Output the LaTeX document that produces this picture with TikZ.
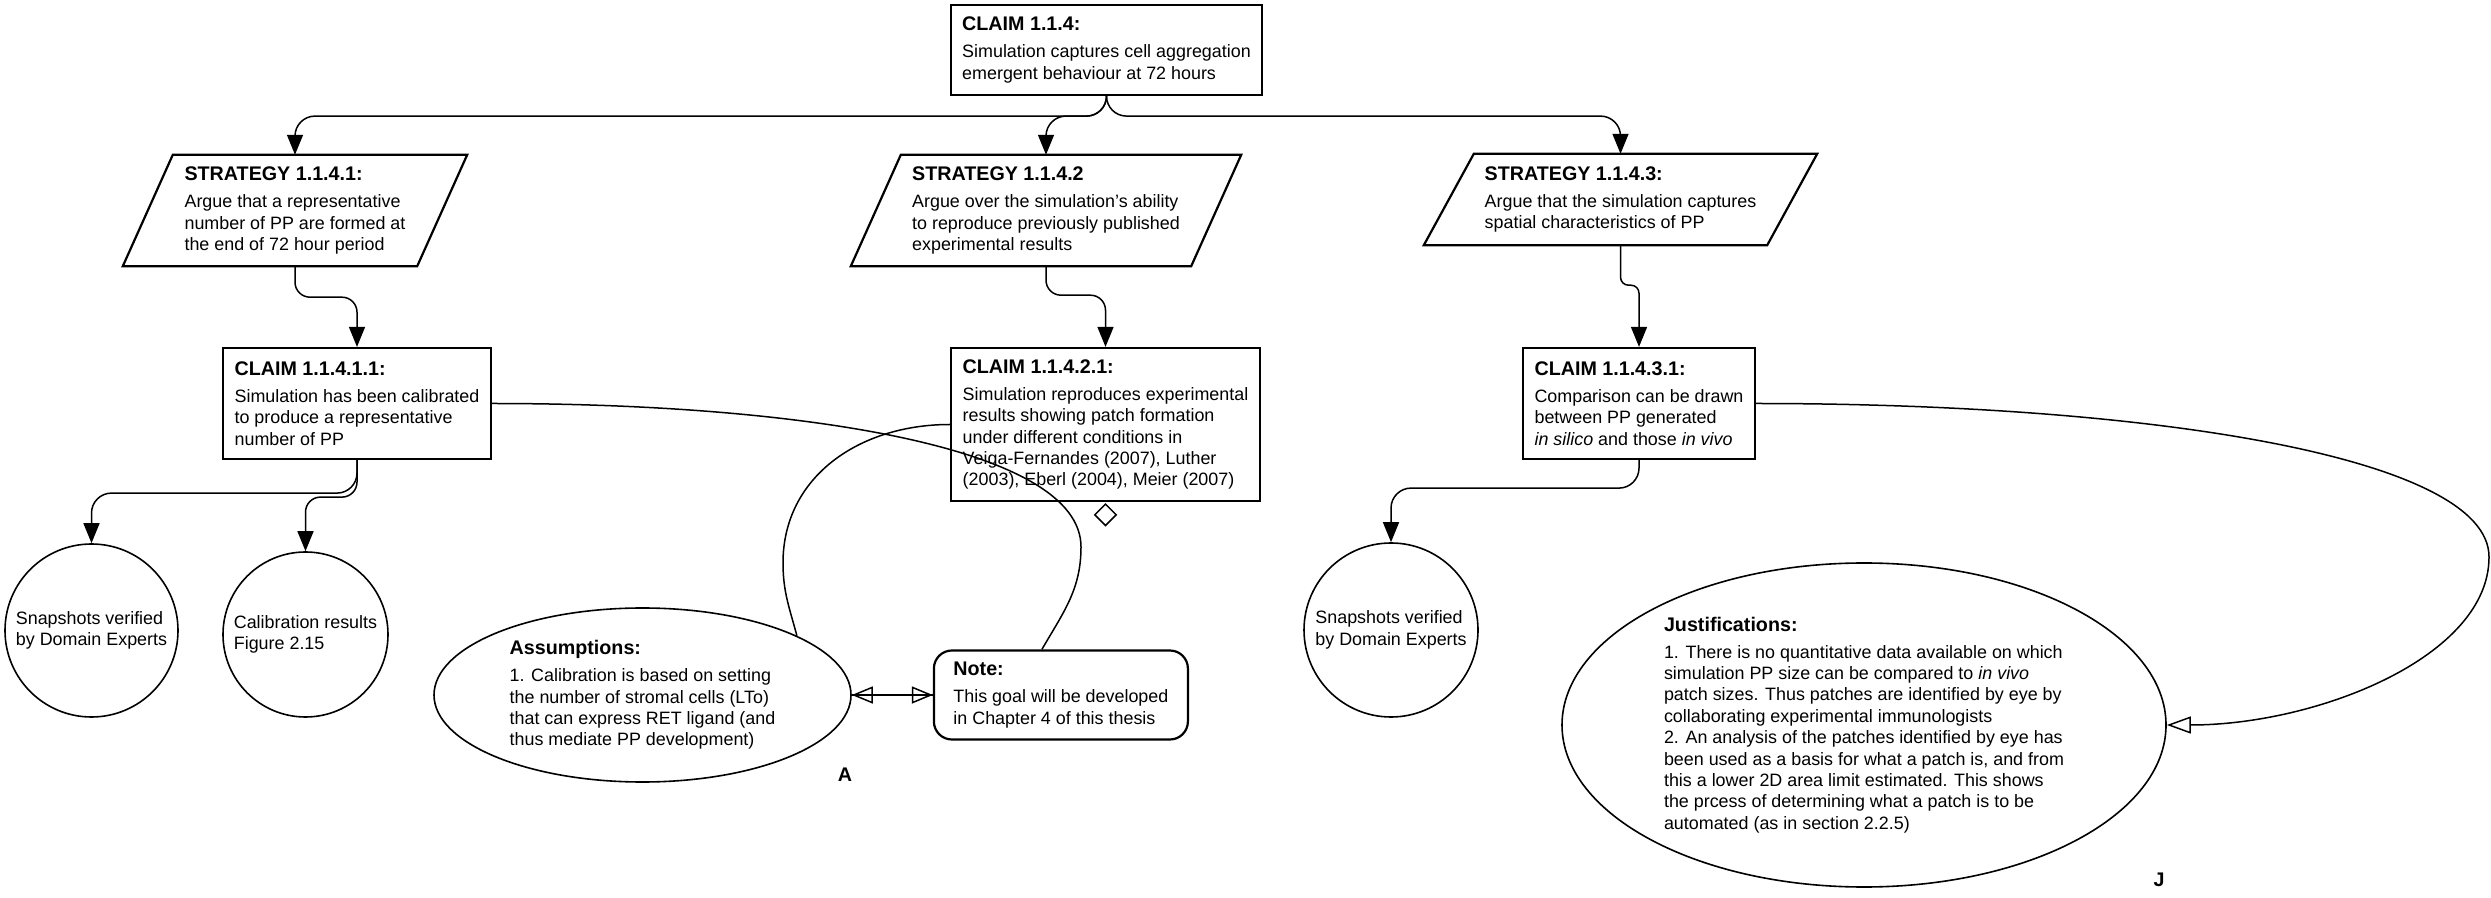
\documentclass[tikz,border=0pt]{standalone}
\usepackage{fontspec}
\setmainfont{Liberation Sans}
\usetikzlibrary{positioning,arrows.meta,shapes.geometric}
\newcommand{\gsnbody}{\fontsize{17.9}{21.4}\selectfont}
\newcommand{\gsnhead}[1]{{\fontsize{19.7}{21.4}\selectfont\bfseries #1}\\[5.6pt]}
\tikzset{
  claim/.style={draw, line width=2.2pt, rectangle, align=left, inner sep=0pt, font=\gsnbody},
  strategy/.style={rectangle, align=left, inner sep=0pt, font=\gsnbody},
  evidence/.style={circle, draw, line width=1.6pt, align=left, inner sep=0pt, font=\gsnbody},
  context/.style={ellipse, draw, line width=1.6pt, align=left, inner sep=0pt, font=\gsnbody},
  notebox/.style={draw, line width=2.2pt, rounded corners=18pt, align=left, inner sep=0pt, font=\gsnbody},
  solved/.style={line width=1.5pt, rounded corners=20pt, -{Triangle[length=20pt,width=16pt]}},
  incontext/.style={line width=1.5pt, -{Triangle[open,length=21pt,width=17pt]}},
  plain/.style={line width=1.5pt}
}

\begin{document}
\begin{tikzpicture}[x=1pt, y=1pt]
  \useasboundingbox (0,0) rectangle (2491,897);

  \node[claim, minimum width=311pt, minimum height=90pt] (c114) at (1106.5,847)
    {\gsnhead{CLAIM 1.1.4:}Simulation captures cell aggregation\\emergent behaviour at 72 hours};

  \node[strategy, minimum width=294pt, minimum height=111pt] (s1) at (295,686.5)
    {\gsnhead{STRATEGY 1.1.4.1:}Argue that a representative\\number of PP are formed at\\the end of 72 hour period};
  \node[strategy, minimum width=340pt, minimum height=111pt] (s2) at (1046,686.5)
    {\gsnhead{STRATEGY 1.1.4.2}Argue over the simulation's ability\\to reproduce previously published\\experimental results};
  \node[strategy, minimum width=343pt, minimum height=91pt] (s3) at (1620.5,697.5)
    {\gsnhead{STRATEGY 1.1.4.3:}Argue that the simulation captures\\spatial characteristics of PP};

  \draw[line width=2.2pt] ([xshift=-25pt]s1.south west) -- ([xshift=25pt]s1.north west) -- ([xshift=25pt]s1.north east) -- ([xshift=-25pt]s1.south east) -- cycle;
  \draw[line width=2.2pt] ([xshift=-25pt]s2.south west) -- ([xshift=25pt]s2.north west) -- ([xshift=25pt]s2.north east) -- ([xshift=-25pt]s2.south east) -- cycle;
  \draw[line width=2.2pt] ([xshift=-25pt]s3.south west) -- ([xshift=25pt]s3.north west) -- ([xshift=25pt]s3.north east) -- ([xshift=-25pt]s3.south east) -- cycle;

  \node[claim, minimum width=268pt, minimum height=111pt] (c1141) at (357,493.5)
    {\gsnhead{CLAIM 1.1.4.1.1:}Simulation has been calibrated\\to produce a representative\\number of PP};
  \node[claim, minimum width=309pt, minimum height=153pt] (c1142) at (1105.5,472.5)
    {\gsnhead{CLAIM 1.1.4.2.1:}Simulation reproduces experimental\\results showing patch formation\\under different conditions in\\Veiga-Fernandes (2007), Luther\\(2003), Eberl (2004), Meier (2007)};
  \node[claim, minimum width=232pt, minimum height=111pt] (c1143) at (1639,493.5)
    {\gsnhead{CLAIM 1.1.4.3.1:}Comparison can be drawn\\between PP generated\\\textit{in silico} and those \textit{in vivo}};

  \node[diamond, draw, line width=1.5pt, minimum width=22pt, minimum height=22pt, inner sep=0pt, below=1pt of c1142] (undev) {};

  \node[evidence, minimum size=173pt] (e1) at (91.5,266.5) {Snapshots verified\\by Domain Experts};
  \node[evidence, minimum size=165pt] (e2) at (305.5,262.5) {Calibration results\\Figure 2.15};
  \node[evidence, minimum size=174pt] (e3) at (1391,267) {Snapshots verified\\by Domain Experts};

  \node[context, minimum width=417pt, minimum height=174pt] (asm) at (642.5,202)
    {\gsnhead{Assumptions:}1. Calibration is based on setting\\the number of stromal cells (LTo)\\that can express RET ligand (and\\thus mediate PP development)};
  \node[notebox, minimum width=254pt, minimum height=89pt, right=81pt of asm] (note)
    {\gsnhead{Note:}This goal will be developed\\in Chapter 4 of this thesis};
  \node[context, minimum width=604pt, minimum height=324pt] (just) at (1864,172)
    {\gsnhead{Justifications:}1. There is no quantitative data available on which\\simulation PP size can be compared to \textit{in vivo}\\patch sizes. Thus patches are identified by eye by\\collaborating experimental immunologists\\2. An analysis of the patches identified by eye has\\been used as a basis for what a patch is, and from\\this a lower 2D area limit estimated. This shows\\the prcess of determining what a patch is to be\\automated (as in section 2.2.5)};

  \node[font=\fontsize{19.7}{21.4}\selectfont\bfseries] (lblA) at (845,122) {A};
  \node[font=\fontsize{19.7}{21.4}\selectfont\bfseries] (lblJ) at (2159,17) {J};

  \draw[solved] (c114.south) -- ++(0,-20) -| (s1.north);
  \draw[solved] (c114.south) -- ++(0,-20) -| (s2.north);
  \draw[solved] (c114.south) -- ++(0,-20) -| (s3.north);
  \draw[solved, rounded corners=15pt] (s1.south) -- ++(0,-31) -| (c1141.north);
  \draw[solved, rounded corners=15pt] (s2.south) -- ++(0,-29) -| (c1142.north);
  \draw[solved, rounded corners=8pt] (s3.south) -- ++(0,-40) -| (c1143.north);
  \draw[solved] (c1141.south) -- ++(0,-33) -| (e1.north);
  \draw[solved, rounded corners=15pt] (c1141.south) -- ++(0,-37) -| (e2.north);
  \draw[solved] (c1143.south) -- ++(0,-28) -| (e3.north);

  \draw[plain] (c1141.east) .. controls +(309,0) and +(0,100) .. (1081,350) to[out=-90, in=60] ([xshift=-19pt]note.north);
  \draw[plain] (c1142.west) .. controls +(-91,0) and +(0,86) .. (783,334) to[out=-90, in=105] (asm.21);
  \draw[incontext] (note.west) -- (asm.east);
  \draw[incontext] (asm.east) -- (note.west);
  \draw[incontext, -{Triangle[open,length=24pt,width=17pt]}] (c1143.east) .. controls +(395,0) and +(0,100) .. (2489,340) .. controls +(0,-100) and +(150,0) .. (just.east);
\end{tikzpicture}
\end{document}
